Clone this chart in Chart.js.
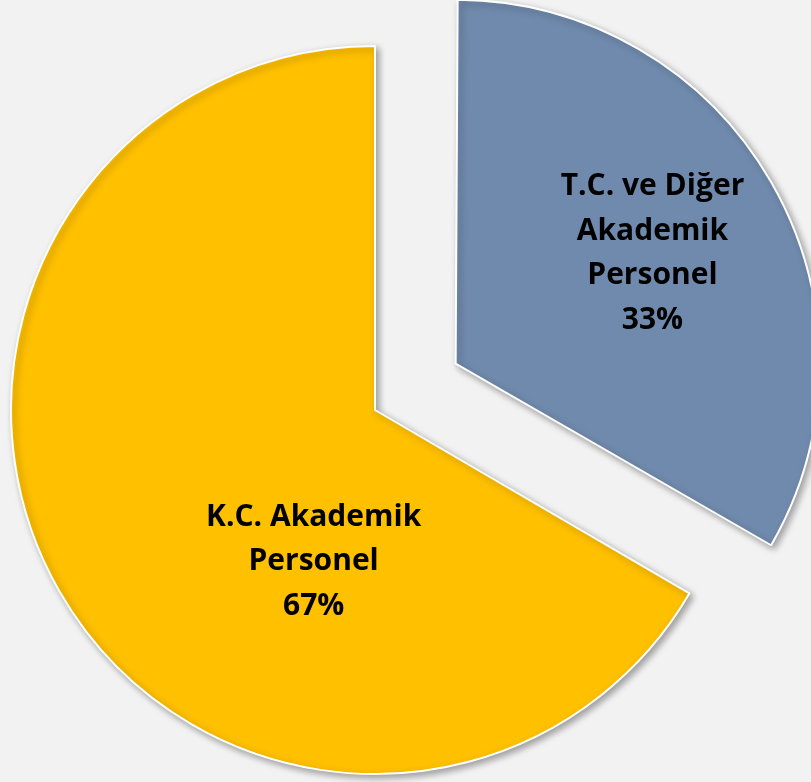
<!DOCTYPE html>
<html>
<head>
<meta charset="utf-8">
<script src="https://cdn.jsdelivr.net/npm/chart.js@4"></script>
<style>
  html, body { margin: 0; padding: 0; background: #f2f2f2; }
  #wrap { width: 811px; height: 782px; }
</style>
</head>
<body>
<div id="wrap"><canvas id="chart" width="811" height="782"></canvas></div>
<script>
const labels = [["T.C. ve Diğer", "Akademik", "Personel"], ["K.C. Akademik", "Personel"]];
const values = [33.4, 66.6];
const colors = ["#708AAD", "#FFC000"];
const explode = [93, 0]; // pixels the slice is pulled out

// where each label sits: angle (deg from top, clockwise) and share of the radius
const labelAngles = [60.7, 202];
const labelRadius = [0.62, 0.45];

// Chart.js v4 moves an arc by offset/4 and grows its radius a bit, so undo that
const explodeFix = {
  id: "explodeFix",
  afterDatasetsUpdate(chart) {
    chart.getDatasetMeta(0).data.forEach((arc, i) => {
      const c = Math.min(Math.PI, arc.circumference);
      arc.outerRadius -= explode[i] * (1 - Math.sin(c));
    });
  },
};

const shadowPlugin = {
  id: "shadow",
  beforeDatasetsDraw(chart) {
    const ctx = chart.ctx;
    ctx.save();
    ctx.shadowColor = "rgba(0,0,0,0.35)";
    ctx.shadowBlur = 7;
    ctx.shadowOffsetX = 3;
    ctx.shadowOffsetY = 3;
  },
  afterDatasetsDraw(chart) {
    chart.ctx.restore();
  },
};

const labelPlugin = {
  id: "sliceLabels",
  afterDraw(chart) {
    const ctx = chart.ctx;
    const meta = chart.getDatasetMeta(0);
    const total = values.reduce((a, b) => a + b, 0);
    ctx.save();
    ctx.font = "bold 30px 'Open Sans'";
    ctx.fillStyle = "#000";
    ctx.textAlign = "center";
    ctx.textBaseline = "middle";
    meta.data.forEach((arc, i) => {
      const p = arc.getProps(["x", "y", "startAngle", "endAngle"], true);
      const mid = (p.startAngle + p.endAngle) / 2;
      const cx = p.x + Math.cos(mid) * explode[i];
      const cy = p.y + Math.sin(mid) * explode[i];
      const r = chart.options.radius;
      const a = (labelAngles[i] - 90) * Math.PI / 180;
      const lx = cx + Math.cos(a) * r * labelRadius[i];
      const ly = cy + Math.sin(a) * r * labelRadius[i];
      const lines = labels[i].concat([Math.round(values[i] / total * 100) + "%"]);
      const lh = 44.5;
      lines.forEach((t, j) => {
        ctx.fillText(t, lx, ly + (j - (lines.length - 1) / 2) * lh);
      });
    });
    ctx.restore();
  },
};

new Chart(document.getElementById("chart"), {
  type: "pie",
  data: {
    labels: labels.map((l) => l.join(" ")),
    datasets: [
      {
        data: values,
        backgroundColor: colors,
        borderColor: "#ffffff",
        borderWidth: 2,
        offset: explode.map((o) => o * 4),
        clip: false,
      },
    ],
  },
  options: {
    responsive: false,
    animation: false,
    radius: 364,
    layout: { padding: { left: 0, right: 61, top: 38, bottom: 0 } },
    plugins: {
      legend: { display: false },
      tooltip: { enabled: false },
    },
  },
  plugins: [explodeFix, shadowPlugin, labelPlugin],
});
</script>
</body>
</html>
